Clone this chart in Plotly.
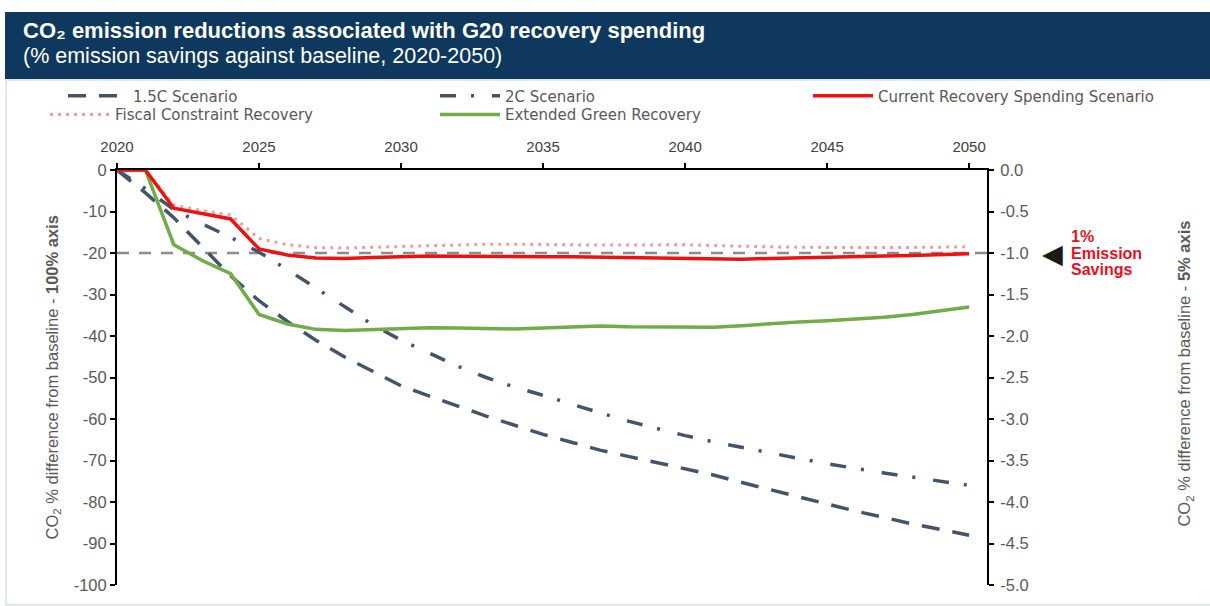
import plotly.graph_objects as go

# ---------------- data ----------------
years = list(range(2020, 2051))

scenario_15c = [0, -5.5, -11.5, -18.5, -25.5, -31.5, -36.5, -41, -45, -48.5,
                -52, -54.5, -57, -59.3, -61.5, -63.7, -65.6, -67.5, -69, -70.5,
                -72, -73.5, -75.3, -77, -78.8, -80.6, -82.2, -83.7, -85.3, -86.6, -88]

scenario_2c = [0, -4.5, -9.5, -13, -16.2, -19.8, -24, -28.4, -33, -37.3,
               -41, -44.2, -47.3, -50, -52.3, -54.3, -56.5, -58.5, -60.5, -62.3,
               -64, -65.5, -66.9, -68.2, -69.5, -70.8, -72, -73, -74, -75, -76]

current_recovery = [0, 0, -9.2, -10.5, -11.8, -19, -20.5, -21.2, -21.3, -21.1,
                    -20.9, -20.7, -20.8, -20.9, -21.0, -20.9, -20.9, -21.0, -21.1, -21.2,
                    -21.3, -21.6, -21.5, -21.3, -21.1, -20.9, -20.8, -20.7, -20.6, -20.4, -20.2]

fiscal_constraint = [0, 0, -8.4, -9.8, -10.8, -16.5, -18, -18.7, -18.8, -18.6,
                     -18.4, -18.2, -18.0, -17.9, -17.9, -18.0, -18.0, -18.1, -18.1, -18.0,
                     -18.0, -18.2, -18.4, -18.5, -18.6, -18.7, -18.7, -18.7, -18.7, -18.6, -18.5]

extended_green = [0, 0, -18, -21.8, -25, -34.8, -37.1, -38.4, -38.7, -38.5,
                  -38.3, -38.0, -38.1, -38.2, -38.3, -38.1, -37.9, -37.6, -37.8, -37.9,
                  -37.9, -37.9, -37.5, -37.0, -36.6, -36.3, -35.9, -35.5, -34.8, -34.0, -33.0]

threshold = -20
x_ticks = [2020, 2025, 2030, 2035, 2040, 2045, 2050]
left_ticks = list(range(-100, 1, 10))
right_ticks = [-5.0, -4.5, -4.0, -3.5, -3.0, -2.5, -2.0, -1.5, -1.0, -0.5, 0.0]
left_tick_labels = [str(v) for v in left_ticks]
right_tick_labels = [f"{v:.1f}" for v in right_ticks]

# ---------------- layout helpers ----------------
W, H = 1210, 606
L, R, T, B = 117, 987, 170, 590


def px(x):
    return (x - L) / (R - L)


def py(y):
    return (B - y) / (B - T)


NAVY = "#44546a"
RED = "#ee1111"
PINK = "#f59ca2"
GREEN = "#70ad47"
GRAY_TXT = "#595959"
FONT = "Liberation Sans, Arial, sans-serif"
LFONT = "DejaVu Sans, Liberation Sans, sans-serif"

fig = go.Figure()

fig.add_trace(go.Scatter(x=years, y=scenario_15c, mode="lines", name="1.5C Scenario",
                         line=dict(color=NAVY, width=3.5, dash="18px,13px"), legend="legend"))
fig.add_trace(go.Scatter(x=years, y=scenario_2c, mode="lines", name="2C Scenario",
                         line=dict(color=NAVY, width=3.5, dash="16px,15px,3px,18px"), legend="legend2"))
fig.add_trace(go.Scatter(x=years, y=fiscal_constraint, mode="lines", name="Fiscal Constraint Recovery",
                         line=dict(color=PINK, width=3, dash="3px,5px"), legend="legend4"))
fig.add_trace(go.Scatter(x=years, y=extended_green, mode="lines", name="Extended Green Recovery",
                         line=dict(color=GREEN, width=3.5), legend="legend5"))
fig.add_trace(go.Scatter(x=years, y=current_recovery, mode="lines", name="Current Recovery Spending Scenario",
                         line=dict(color=RED, width=3.5), legend="legend3"))
# invisible trace so the secondary (5%) axis is drawn
fig.add_trace(go.Scatter(x=[years[0], years[-1]], y=[right_ticks[0], right_ticks[-1]], yaxis="y2",
                         mode="markers", marker=dict(opacity=0), showlegend=False, hoverinfo="skip"))

# threshold reference line
fig.add_shape(type="line", xref="paper", x0=0, x1=1, yref="y", y0=threshold, y1=threshold,
              line=dict(color="#8c8c8c", width=2.5, dash="12px,10px"), layer="below")

# header banner and frame
fig.add_shape(type="rect", xref="paper", yref="paper", x0=px(6), x1=px(1215), y0=py(610), y1=py(79),
              line=dict(color="#d6e2ea", width=1.5), fillcolor="rgba(0,0,0,0)", layer="below")
fig.add_shape(type="rect", xref="paper", yref="paper", x0=px(5), x1=px(1215), y0=py(78), y1=py(10),
              line=dict(width=0), fillcolor="#0e385e", layer="below")

annotations = [
    dict(text="<b>CO₂ emission reductions associated with G20 recovery spending</b>",
         x=px(21), y=py(29), xref="paper", yref="paper", xanchor="left", yanchor="middle",
         showarrow=False, font=dict(family=FONT, size=22, color="white")),
    dict(text="(% emission savings against baseline, 2020-2050)",
         x=px(21), y=py(54.5), xref="paper", yref="paper", xanchor="left", yanchor="middle",
         showarrow=False, font=dict(family=FONT, size=21.5, color="white")),
    dict(text="CO<sub>2</sub> % difference from baseline - <b>100% axis</b>",
         x=px(52), y=py(380), xref="paper", yref="paper", xanchor="center", yanchor="middle",
         textangle=-90, showarrow=False, font=dict(family=FONT, size=16.5, color=GRAY_TXT)),
    dict(text="CO<sub>2</sub> % difference from baseline - <b>5% axis</b>",
         x=px(1185), y=py(376), xref="paper", yref="paper", xanchor="center", yanchor="middle",
         textangle=-90, showarrow=False, font=dict(family=FONT, size=16.5, color=GRAY_TXT)),
    dict(text="◀", x=px(1052), y=threshold, xref="paper", yref="y", xanchor="center", yanchor="middle",
         showarrow=False, font=dict(family="DejaVu Sans", size=27, color="#1a1a1a")),
]
for txt, ycen in [("1%", 237), ("Emission", 254), ("Savings", 271)]:
    annotations.append(dict(text="<b>" + txt + "</b>", x=px(1069), y=py(ycen), xref="paper", yref="paper",
                            xanchor="left", yanchor="middle", showarrow=False,
                            font=dict(family=FONT, size=16, color="#e8101e")))

legend_common = dict(orientation="v", xanchor="left", yanchor="middle", bgcolor="rgba(0,0,0,0)",
                     itemwidth=60, font=dict(family=LFONT, size=15, color=GRAY_TXT),
                     itemclick=False, itemdoubleclick=False)

fig.update_layout(
    width=W, height=H,
    margin=dict(l=L, r=W - R, t=T, b=H - B, pad=0),
    paper_bgcolor="white", plot_bgcolor="white",
    showlegend=True,
    legend=dict(x=px(63), y=py(95), **legend_common),
    legend2=dict(x=px(435), y=py(95), **legend_common),
    legend3=dict(x=px(808), y=py(95), **legend_common),
    legend4=dict(x=px(45), y=py(114), **legend_common),
    legend5=dict(x=px(435), y=py(114), **legend_common),
    xaxis=dict(range=[2020, 2050.63], side="top", tickvals=x_ticks, ticks="outside", ticklen=5,
               tickwidth=1.5, tickcolor="black", showline=True, linecolor="black", linewidth=2,
               showgrid=False, zeroline=False, ticklabelstandoff=5,
               tickfont=dict(family=FONT, size=15, color="#404040")),
    yaxis=dict(range=[-100, 0], tickvals=left_ticks, ticktext=left_tick_labels, ticks="outside",
               ticklen=5, tickwidth=1.5, tickcolor="black", showline=True, linecolor="black",
               linewidth=2, showgrid=False, zeroline=False,
               tickfont=dict(family=FONT, size=16.5, color=GRAY_TXT)),
    yaxis2=dict(range=[-5, 0], overlaying="y", side="right", tickvals=right_ticks,
                ticktext=right_tick_labels, ticks="outside", ticklen=5, tickwidth=1.5,
                tickcolor="black", showline=True, linecolor="black", linewidth=2, showgrid=False,
                zeroline=False, ticklabelstandoff=3,
                tickfont=dict(family=FONT, size=16.5, color=GRAY_TXT)),
    annotations=annotations,
)

fig.write_html("out.html")
